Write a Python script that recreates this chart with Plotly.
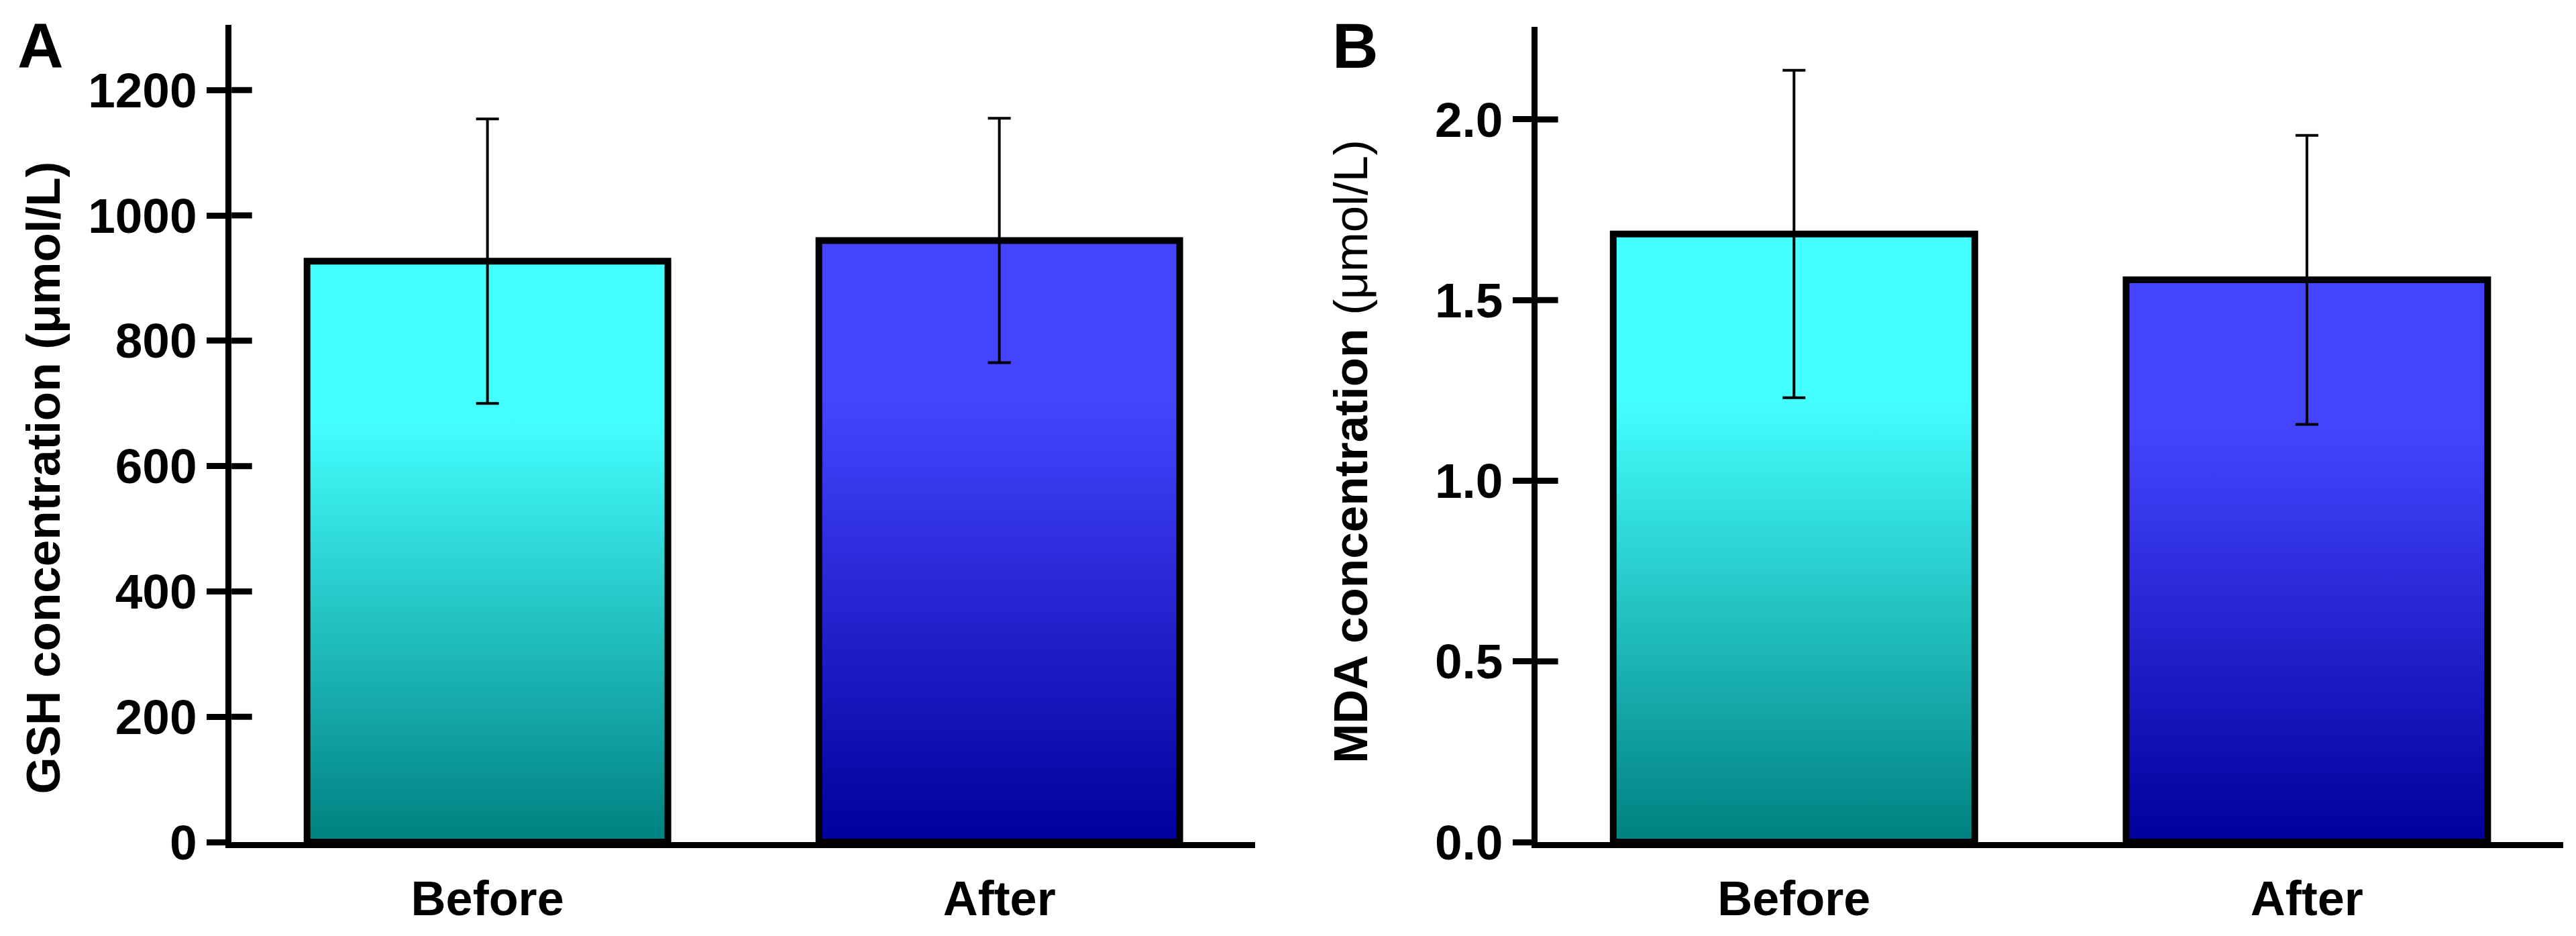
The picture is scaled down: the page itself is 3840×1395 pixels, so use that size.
import plotly.graph_objects as go

# group labels and values
groups = ['Before', 'After']
gsh_mean = [927, 960]
gsh_sd = [227, 195]
mda_mean = [1.683, 1.556]
mda_sd = [0.453, 0.400]

gsh_ticks = [0, 200, 400, 600, 800, 1000, 1200]
mda_ticks = [0.0, 0.5, 1.0, 1.5, 2.0]

# bottom -> top gradient for each group
bar_scales = [
    [[0, '#008080'], [0.73, '#44ffff'], [1, '#44ffff']],
    [[0, '#00009c'], [0.73, '#4444ff'], [1, '#4444ff']],
]
bar_w = 0.705
x_range = [-0.5, 1.5]

FONT = 'Liberation Sans, Arial, sans-serif'

fig = go.Figure()


def add_panel(means, sds, ticks, xref, yref):
    # inner half of the crossing y ticks
    tx, ty = [], []
    for v in ticks[1:]:
        tx += [x_range[0] - 0.01, x_range[0] + 0.04, None]
        ty += [v, v, None]
    fig.add_trace(go.Scatter(
        x=tx, y=ty, xaxis=xref, yaxis=yref, mode='lines',
        line=dict(color='black', width=9), cliponaxis=False,
        hoverinfo='skip', showlegend=False,
    ))
    # one filled rectangle per group, with a vertical colour gradient
    for i, (m, scale) in enumerate(zip(means, bar_scales)):
        x0, x1 = i - bar_w / 2, i + bar_w / 2
        fig.add_trace(go.Scatter(
            x=[x0, x1, x1, x0, x0], y=[0, 0, m, m, 0],
            xaxis=xref, yaxis=yref,
            mode='lines', fill='toself',
            fillgradient=dict(type='vertical', colorscale=scale),
            line=dict(color='black', width=10),
            hoverinfo='skip', showlegend=False,
        ))
    # error bars on top of the bars
    fig.add_trace(go.Scatter(
        x=list(range(len(means))), y=means,
        xaxis=xref, yaxis=yref,
        mode='markers', marker=dict(size=1, color='rgba(0,0,0,0)'),
        error_y=dict(type='data', array=sds, color='black', thickness=4, width=17),
        hoverinfo='skip', showlegend=False,
    ))


add_panel(gsh_mean, gsh_sd, gsh_ticks, 'x', 'y')
add_panel(mda_mean, mda_sd, mda_ticks, 'x2', 'y2')

ybot = 0.079
xdom_a = [0.0878, 0.4852]
xdom_b = [0.5948, 0.9930]

xaxis_common = dict(
    range=x_range, tickvals=list(range(len(groups))), ticktext=groups,
    showline=True, linecolor='black', linewidth=9, ticks='',
    showgrid=False, zeroline=False, ticklabelstandoff=14,
    tickfont=dict(family=FONT, size=72, color='black', weight='bold'),
)
yaxis_common = dict(
    showline=True, linecolor='black', linewidth=9,
    ticks='outside', ticklen=28, tickwidth=9, tickcolor='black',
    showgrid=False, zeroline=False,
    tickfont=dict(family=FONT, size=73, color='black', weight='bold'),
)

fig.update_layout(
    width=3840, height=1395,
    margin=dict(l=0, r=0, t=0, b=0),
    paper_bgcolor='white', plot_bgcolor='white',
    showlegend=False,
    xaxis=dict(xaxis_common, domain=xdom_a, anchor='y'),
    xaxis2=dict(xaxis_common, domain=xdom_b, anchor='y2'),
    yaxis=dict(yaxis_common, domain=[ybot, 0.9785], range=[0, 1304],
               tickvals=gsh_ticks, anchor='x'),
    yaxis2=dict(yaxis_common, domain=[ybot, 0.9763], range=[0, 2.256],
                tickvals=mda_ticks, tickformat='.1f', anchor='x2'),
    annotations=[
        dict(text='<b>A</b>', x=0.0138, y=0.9556, xref='paper', yref='paper',
             xanchor='center', yanchor='middle', showarrow=False,
             font=dict(family=FONT, size=95, color='black')),
        dict(text='<b>B</b>', x=0.5242, y=0.9556, xref='paper', yref='paper',
             xanchor='center', yanchor='middle', showarrow=False,
             font=dict(family=FONT, size=95, color='black')),
        dict(text='<b>GSH concentration (μmol/L)</b>', x=0.0148, y=0.4803,
             xref='paper', yref='paper', xanchor='center', yanchor='middle',
             textangle=-90, showarrow=False,
             font=dict(family=FONT, size=71, color='black')),
        dict(text='<b>MDA concentration</b> (μmol/L)', x=0.5224, y=0.509,
             xref='paper', yref='paper', xanchor='center', yanchor='middle',
             textangle=-90, showarrow=False,
             font=dict(family=FONT, size=71, color='black')),
    ],
)

fig.write_html('out.html')
